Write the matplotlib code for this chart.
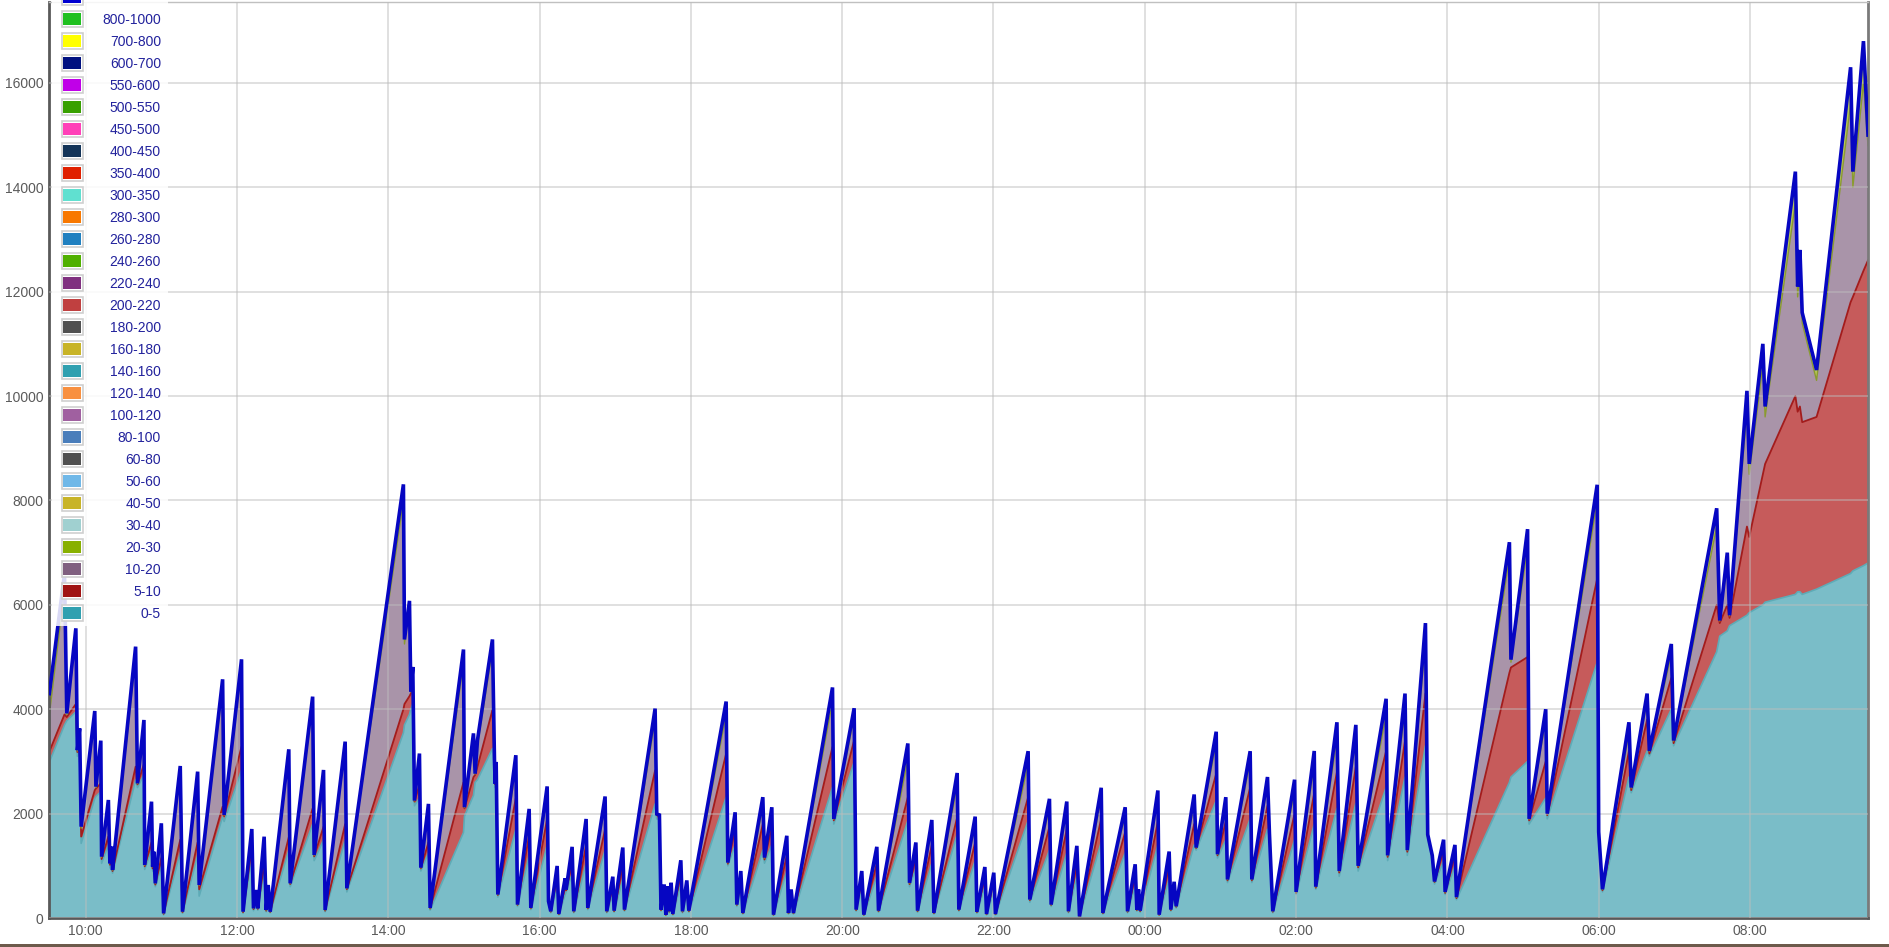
import matplotlib
matplotlib.use("Agg")
import matplotlib.pyplot as plt
from matplotlib.patches import Rectangle

# time in hours from midnight of the first day (24+ = next day)
hours = [
    9.52, 9.72, 9.75, 9.87, 9.89, 9.92, 9.94, 10.12, 10.135, 10.20,
    10.21, 10.30, 10.32, 10.34, 10.355, 10.66, 10.685, 10.77, 10.78, 10.87,
    10.885, 10.90, 10.92, 11.00, 11.03, 11.25, 11.28, 11.48, 11.50, 11.81,
    11.83, 12.06, 12.08, 12.196, 12.218, 12.262, 12.275, 12.359, 12.386, 12.412,
    12.439, 12.685, 12.703, 13.00, 13.02, 13.144, 13.165, 13.43, 13.452, 14.20,
    14.214, 14.28, 14.298, 14.324, 14.346, 14.412, 14.43, 14.531, 14.553, 14.994,
    15.007, 15.126, 15.148, 15.179, 15.377, 15.404, 15.413, 15.426, 15.448, 15.686,
    15.708, 15.862, 15.884, 16.10, 16.118, 16.148, 16.232, 16.254, 16.338, 16.351,
    16.43, 16.452, 16.615, 16.637, 16.866, 16.888, 16.968, 16.985, 17.10, 17.122,
    17.527, 17.549, 17.584, 17.605, 17.647, 17.669, 17.691, 17.713, 17.739, 17.761,
    17.867, 17.889, 17.946, 17.973, 18.466, 18.488, 18.585, 18.607, 18.66, 18.687,
    18.951, 18.973, 19.07, 19.092, 19.268, 19.29, 19.325, 19.356, 19.872, 19.889,
    20.158, 20.184, 20.259, 20.286, 20.458, 20.48, 20.868, 20.89, 20.974, 20.996,
    21.185, 21.212, 21.52, 21.542, 21.758, 21.78, 21.886, 21.908, 22.004, 22.026,
    22.458, 22.48, 22.74, 22.762, 22.969, 22.991, 23.102, 23.137, 23.424, 23.446,
    23.52, 23.741, 23.772, 23.873, 23.895, 23.917, 23.939, 24.173, 24.19, 24.322,
    24.344, 24.388, 24.415, 24.653, 24.679, 24.944, 24.961, 25.071, 25.093, 25.393,
    25.415, 25.622, 25.648, 25.692, 25.98, 26.00, 26.24, 26.26, 26.54, 26.57,
    26.79, 26.82, 27.19, 27.21, 27.44, 27.47, 27.71, 27.74, 27.80, 27.83,
    27.95, 27.97, 28.10, 28.12, 28.82, 28.84, 29.06, 29.08, 29.30, 29.32,
    29.98, 30.00, 30.05, 30.40, 30.43, 30.64, 30.67, 30.96, 30.99, 31.56,
    31.60, 31.70, 31.73, 31.96, 31.99, 32.17, 32.20, 32.60, 32.63, 32.66,
    32.69, 32.88, 33.33, 33.36, 33.50, 33.56,
]

# stacked totals (top of the whole stack)
total = [
    4300, 6600, 3920, 5550, 3215, 3633, 1750, 3966, 2516, 3398,
    1175, 2261, 1047, 1367, 920, 5199, 2580, 3794, 1016, 2229,
    984, 1271, 664, 1814, 89, 2912, 121, 2804, 632, 4573,
    1974, 4956, 121, 1705, 185, 536, 185, 1558, 153, 632,
    121, 3232, 664, 4241, 1207, 2836, 153, 3379, 568, 8308,
    5337, 6076, 4340, 4810, 2250, 3151, 964, 2186, 193, 5144,
    2122, 3537, 2765, 3408, 5337, 2990, 2572, 2990, 450, 3119,
    257, 2090, 193, 2521, 321, 129, 997, 77, 759, 547,
    1363, 129, 1897, 193, 2328, 129, 791, 141, 1350, 161,
    4012, 1993, 1974, 161, 643, 64, 611, 129, 675, 77,
    1106, 129, 720, 141, 4147, 1061, 2025, 257, 900, 96,
    2315, 1157, 2122, 64, 1575, 96, 547, 96, 4417, 1897,
    4019, 161, 900, 64, 1363, 141, 3344, 675, 1447, 141,
    1878, 96, 2778, 161, 1942, 116, 977, 77, 868, 77,
    3196, 354, 2283, 257, 2231, 129, 1382, 32, 2495, 96,
    611, 2122, 129, 1029, 161, 547, 141, 2443, 64, 1273,
    161, 694, 225, 2366, 1350, 3569, 1222, 2315, 739, 3196,
    739, 2701, 1608, 129, 2650, 500, 3200, 600, 3750, 900,
    3700, 1000, 4200, 1200, 4300, 1300, 5650, 1600, 1200, 700,
    1500, 500, 1400, 400, 7200, 4950, 7450, 1900, 4000, 2000,
    8300, 1650, 550, 3750, 2500, 4300, 3200, 5250, 3400, 7850,
    5700, 7000, 5800, 10100, 8700, 11000, 9800, 14300, 12100, 12800,
    11600, 10500, 16300, 14300, 16800, 15000,
]

# cumulative top of band 0-5
top_0_5 = [
    2990, 3700, 3780, 3950, 3100, 3150, 1430, 2290, 2330, 2420,
    1047, 1400, 960, 1000, 860, 2644, 2500, 2750, 930, 1300,
    900, 950, 600, 1000, 60, 1250, 90, 1200, 420, 1942,
    1850, 2836, 90, 1200, 140, 300, 150, 900, 120, 300,
    100, 1300, 600, 1800, 1100, 1500, 120, 1500, 500, 3550,
    3700, 3900, 4000, 4100, 2150, 2300, 900, 1250, 150, 1640,
    1950, 2350, 2600, 2650, 3247, 2900, 2500, 2550, 400, 1700,
    220, 1200, 160, 1400, 280, 100, 600, 60, 450, 500,
    850, 100, 1050, 160, 1300, 100, 450, 110, 750, 130,
    2186, 1900, 1880, 130, 400, 50, 380, 100, 420, 60,
    650, 100, 450, 110, 2315, 1000, 1400, 220, 550, 80,
    1300, 1050, 1400, 50, 900, 80, 350, 80, 2508, 1800,
    2990, 130, 550, 50, 800, 110, 1865, 600, 950, 110,
    1050, 80, 1608, 130, 1100, 90, 600, 60, 520, 60,
    1865, 300, 1300, 220, 1250, 100, 800, 25, 1450, 80,
    380, 1250, 100, 620, 130, 350, 110, 1400, 50, 750,
    130, 430, 190, 1400, 1300, 2250, 1150, 1500, 680, 1900,
    680, 1700, 1550, 100, 1500, 450, 1800, 550, 2100, 800,
    2200, 900, 2500, 1100, 2700, 1200, 3300, 1500, 1100, 650,
    1100, 450, 1000, 350, 2600, 2700, 3000, 1800, 2300, 1900,
    4900, 1550, 500, 2700, 2400, 3200, 3100, 4000, 3300, 5100,
    5400, 5500, 5600, 5800, 5850, 6000, 6050, 6200, 6250, 6250,
    6200, 6300, 6600, 6650, 6750, 6800,
]

# cumulative top of band 5-10
top_5_10 = [
    3190, 3900, 3850, 4100, 3180, 3250, 1560, 2450, 2480, 2580,
    1130, 1560, 1020, 1100, 900, 2900, 2560, 2950, 990, 1450,
    950, 1050, 640, 1150, 80, 1500, 110, 1450, 550, 2133,
    1950, 3283, 110, 1350, 170, 400, 175, 1050, 140, 450,
    115, 1550, 650, 2100, 1180, 1750, 140, 1800, 550, 4000,
    4100, 4250, 4300, 4450, 2230, 2550, 950, 1450, 180, 2600,
    2100, 2700, 2740, 2900, 3987, 2970, 2560, 2700, 440, 2300,
    250, 1600, 185, 1900, 310, 120, 780, 72, 600, 530,
    1050, 120, 1400, 185, 1700, 120, 600, 130, 1000, 150,
    2829, 1970, 1950, 150, 520, 60, 500, 120, 540, 72,
    850, 120, 580, 130, 3151, 1040, 1700, 250, 720, 90,
    1800, 1120, 1750, 60, 1200, 90, 450, 90, 3279, 1870,
    3408, 150, 720, 60, 1050, 130, 2315, 650, 1150, 130,
    1400, 90, 1929, 150, 1450, 110, 780, 72, 690, 72,
    2315, 340, 1750, 250, 1700, 120, 1050, 30, 1900, 90,
    500, 1650, 120, 800, 150, 450, 130, 1850, 60, 1000,
    150, 560, 215, 1800, 1340, 2765, 1200, 1850, 720, 2500,
    720, 2150, 1590, 120, 2000, 480, 2400, 580, 2800, 870,
    2900, 970, 3200, 1170, 3400, 1270, 4300, 1570, 1170, 690,
    1300, 480, 1200, 380, 4700, 4800, 5000, 1870, 3000, 1970,
    6500, 1600, 530, 3200, 2450, 3800, 3150, 4600, 3350, 6000,
    5650, 6000, 5750, 7500, 7300, 8500, 8700, 10000, 9700, 9800,
    9500, 9600, 11800, 11900, 12400, 12600,
]

# cumulative top of band 10-20
top_10_20 = [
    3900, 6300, 3900, 5350, 3200, 3580, 1720, 3850, 2500, 3300,
    1165, 2200, 1040, 1330, 915, 5000, 2575, 3700, 1010, 2150,
    980, 1240, 660, 1760, 88, 2800, 120, 2700, 625, 4420,
    1970, 4800, 120, 1650, 183, 520, 183, 1500, 150, 610,
    120, 3120, 660, 4100, 1200, 2740, 150, 3260, 565, 8000,
    5250, 5950, 4330, 4750, 2245, 3080, 960, 2120, 190, 4900,
    2115, 3400, 2760, 3300, 5150, 2985, 2570, 2950, 448, 2900,
    255, 1950, 190, 2350, 318, 127, 930, 76, 710, 545,
    1280, 127, 1780, 190, 2180, 127, 740, 139, 1260, 158,
    3800, 1990, 1970, 158, 610, 63, 580, 127, 640, 76,
    1040, 127, 680, 139, 3900, 1058, 1920, 255, 850, 95,
    2150, 1150, 2000, 63, 1470, 95, 520, 95, 4150, 1890,
    3850, 158, 850, 63, 1280, 139, 3050, 670, 1370, 139,
    1750, 95, 2550, 158, 1800, 114, 920, 76, 820, 76,
    2950, 352, 2120, 255, 2080, 127, 1290, 31, 2320, 95,
    580, 1980, 127, 970, 158, 520, 139, 2280, 63, 1190,
    158, 660, 222, 2200, 1348, 3350, 1218, 2200, 736, 3000,
    736, 2550, 1605, 127, 2450, 495, 2950, 595, 3450, 895,
    3450, 995, 3900, 1195, 4000, 1295, 5300, 1595, 1195, 698,
    1450, 495, 1350, 395, 6900, 4900, 7100, 1895, 3800, 1995,
    8000, 1640, 545, 3550, 2490, 4150, 3190, 5050, 3390, 7500,
    5690, 6800, 5790, 9700, 8500, 10600, 9600, 13700, 11900, 12400,
    11400, 10300, 15600, 14000, 16000, 14800,
]

tick_hours = [10, 12, 14, 16, 18, 20, 22, 24, 26, 28, 30, 32]
tick_labels = ["10:00", "12:00", "14:00", "16:00", "18:00", "20:00",
               "22:00", "00:00", "02:00", "04:00", "06:00", "08:00"]
y_ticks = [0, 2000, 4000, 6000, 8000, 10000, 12000, 14000, 16000]

legend_labels = ["800-1000", "700-800", "600-700", "550-600", "500-550",
                 "450-500", "400-450", "350-400", "300-350", "280-300",
                 "260-280", "240-260", "220-240", "200-220", "180-200",
                 "160-180", "140-160", "120-140", "100-120", "80-100",
                 "60-80", "50-60", "40-50", "30-40", "20-30", "10-20",
                 "5-10", "0-5"]
legend_colors = ["#20c020", "#ffff00", "#001080", "#c000e8", "#38a000",
                 "#ff40b8", "#143458", "#e02000", "#60e0d0", "#f87800",
                 "#2080c0", "#50b000", "#803080", "#c04040", "#505050",
                 "#c8b428", "#30a0b0", "#f89040", "#a060a0", "#4a7ebb",
                 "#505050", "#70b8e8", "#c8b428", "#a0d0d0", "#88b000",
                 "#806080", "#a01414", "#30a0b0"]

W, H = 1889, 947
fig = plt.figure(figsize=(W / 100, H / 100), dpi=100)
ax = fig.add_axes([49 / W, 1 - 918 / H, (1868 - 49) / W, (918 - 2) / H])

band_0_5 = top_0_5
band_5_10 = [b - a for a, b in zip(top_0_5, top_5_10)]
band_10_20 = [b - a for a, b in zip(top_5_10, top_10_20)]
band_20_30 = [b - a for a, b in zip(top_10_20, total)]

ax.stackplot(hours, band_0_5, band_5_10, band_10_20, band_20_30,
             colors=["#7abdc8", "#c65b5b", "#a994a9", "#b8c95a"],
             linewidth=0, zorder=1)
ax.plot(hours, top_0_5, color="#5eabb7", lw=1.2, zorder=2)
ax.plot(hours, top_5_10, color="#a31c1c", lw=1.3, zorder=2)
ax.plot(hours, top_10_20, color="#8a9a30", lw=1.0, zorder=2)
ax.plot(hours, total, color="#0606c2", lw=2.6, zorder=4,
        solid_joinstyle="miter")

ax.set_xlim(9.515, 33.56)
ax.set_ylim(0, 17550)
ax.set_xticks(tick_hours)
ax.set_xticklabels(tick_labels)
ax.set_yticks(y_ticks)
ax.set_yticklabels([str(v) for v in y_ticks])
ax.set_axisbelow(False)
ax.grid(True, color="#bdbdbd", lw=1.2, alpha=0.55, zorder=3)
ax.tick_params(length=0, labelsize=10, labelcolor="#5a5a5a", pad=4)
for lab in ax.get_xticklabels() + ax.get_yticklabels():
    lab.set_family("Liberation Sans")

for side in ["left", "bottom"]:
    ax.spines[side].set_color("#595959")
    ax.spines[side].set_linewidth(2)
ax.spines["right"].set_color("#7a7a7a")
ax.spines["right"].set_linewidth(2)
ax.spines["top"].set_color("#c0c0c0")
ax.spines["top"].set_linewidth(1)

# legend drawn on figure, in pixel rows of 22 px
def fx(x):
    return x / W

def fy(y):
    return 1 - y / H

fig.add_artist(Rectangle((fx(52), fy(626)), fx(168) - fx(52), fy(0) - fy(626),
                         transform=fig.transFigure, facecolor="white",
                         edgecolor="none", alpha=0.85, zorder=5))
rows = [("", "#0000d0")] + list(zip(legend_labels, legend_colors))
for i, (lab, col) in enumerate(rows):
    cy = -3 + 22 * i
    fig.add_artist(Rectangle((fx(61.5), fy(cy + 8)), fx(21), 16 / H,
                             transform=fig.transFigure, facecolor="white",
                             edgecolor="#cfcfcf", lw=1.2, zorder=6))
    fig.add_artist(Rectangle((fx(63), fy(cy + 6.2)), fx(18), 12.4 / H,
                             transform=fig.transFigure, facecolor=col,
                             edgecolor="none", zorder=7))
    if lab:
        fig.text(fx(161), fy(cy + 0.5), lab, ha="right", va="center",
                 color="#22229c", fontsize=10, family="Liberation Sans",
                 zorder=7)

# page background strip below the chart
fig.add_artist(Rectangle((0, 0), 1, 3 / H, transform=fig.transFigure,
                         facecolor="#6d5a4b", edgecolor="none"))

fig.savefig("out.png", dpi=100)
